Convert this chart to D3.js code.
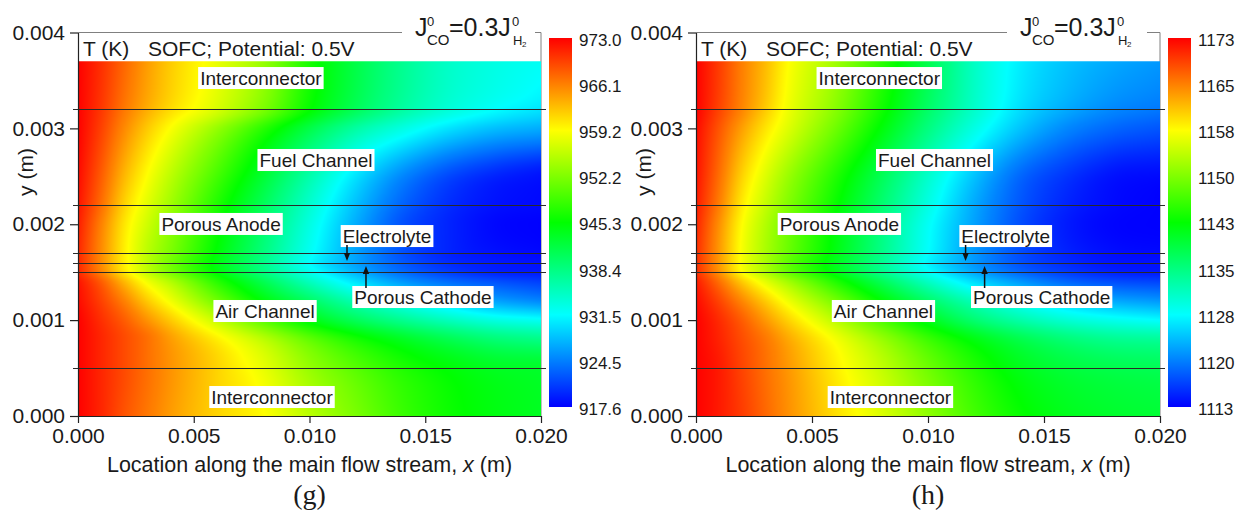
<!DOCTYPE html>
<html>
<head>
<meta charset="utf-8">
<script src="https://cdn.jsdelivr.net/npm/d3@7"></script>
<style>
  body { margin: 0; background: #fff; }
  text { font-family: "Liberation Sans", Arial, sans-serif; fill: #1a1a1a; }
</style>
</head>
<body>
<svg id="fig" width="1251" height="521"></svg>
<script>
// Sampling nodes of the temperature field (m)
const xNodes = [0, 0.001, 0.002, 0.003, 0.004, 0.006, 0.008, 0.010, 0.012, 0.014, 0.016, 0.018, 0.020];
const yNodes = [0, 0.0005, 0.0008, 0.001, 0.0012, 0.0014, 0.0015, 0.0016, 0.0017, 0.002, 0.0022, 0.0025, 0.003, 0.0032, 0.0037];

// Temperature (K) at the nodes, one row per yNodes entry (bottom to top), panel (g)
const tempG = [
  [973, 971, 968.5, 966.5, 964.5, 961.5, 959.3, 955.5, 952, 948.5, 946, 944.5, 943.5],
  [973, 971, 969, 967, 965, 961.5, 958, 953.5, 950, 947, 945, 943.5, 943],
  [973, 971, 969, 967, 964.5, 960, 955.5, 950.5, 946.5, 943.5, 941, 939, 938],
  [973, 970.5, 968, 965, 962, 956, 950, 944.5, 940.5, 937.5, 935, 933, 932],
  [972.5, 969.5, 966, 962, 958.5, 951.5, 945, 940, 935.5, 932, 929, 926.5, 925],
  [972, 968, 963, 958.5, 955, 947.5, 941, 935, 930, 926, 923.5, 922, 921],
  [971, 966, 960.5, 956, 952, 945, 938.5, 932.5, 927.5, 923.5, 921, 919.5, 919],
  [971, 965.5, 960, 955.5, 951.5, 944.5, 938, 931.5, 926.5, 922.5, 920, 919, 918.5],
  [971, 965.5, 960, 955.5, 952, 945, 938.5, 932, 926.5, 922, 919.5, 918.5, 918],
  [971.5, 966, 960.5, 956.5, 953, 946, 939.5, 933, 927, 922, 919.5, 918, 917.6],
  [972, 967, 961.5, 957.5, 954, 947, 940.5, 934, 928, 923, 920, 918.5, 918],
  [972.5, 968, 963, 959, 955.5, 949, 942.5, 936, 930, 925, 921.5, 919.5, 918.5],
  [973, 969.5, 965.5, 962, 959, 953.5, 947.5, 941.5, 936.5, 933, 930, 928, 927],
  [973, 970, 966.5, 963.5, 961, 957, 952, 945.5, 940.5, 936.5, 933.5, 931.5, 930],
  [973, 970.5, 967.5, 964.5, 962, 958, 953.5, 946.5, 941.5, 937.5, 934.5, 933, 932]
];

// Temperature (K) at the nodes, panel (h)
const tempH = [
  [1173, 1171.5, 1169.5, 1167, 1164.5, 1160, 1156, 1151.5, 1147, 1143.5, 1141.5, 1140.5, 1140],
  [1173, 1171.5, 1169, 1166.5, 1164, 1159, 1154.5, 1149.5, 1145, 1141.5, 1139.5, 1138.5, 1138],
  [1173, 1171, 1168.5, 1166, 1163, 1157.5, 1152, 1146.5, 1142, 1138.5, 1136, 1134.5, 1134],
  [1173, 1170.5, 1167.5, 1164, 1160.5, 1154, 1147.5, 1141.5, 1136.5, 1133, 1130.5, 1129, 1128],
  [1172.5, 1169, 1165, 1161, 1157, 1150, 1143, 1137, 1132, 1128, 1125, 1123, 1122],
  [1171.5, 1166.5, 1161, 1156.5, 1152.5, 1145, 1138, 1131.5, 1126, 1122, 1119, 1117.5, 1117],
  [1170.5, 1164.5, 1158, 1153.5, 1149, 1142, 1135, 1128.5, 1123, 1119, 1116.5, 1115, 1114.5],
  [1170.5, 1164, 1157.5, 1153, 1148.5, 1141.5, 1134.5, 1127.5, 1122, 1117.8, 1115.5, 1114.2, 1114],
  [1170.5, 1164, 1157.5, 1153, 1149, 1142, 1135, 1128, 1122, 1117.5, 1115, 1113.8, 1113.5],
  [1171, 1164.5, 1158, 1153.5, 1149.5, 1142.5, 1135.5, 1128.5, 1122.5, 1117.5, 1114.5, 1113.2, 1113],
  [1171.5, 1165.5, 1159, 1154.5, 1150.5, 1143.5, 1136.5, 1129.5, 1123, 1118, 1115, 1113.5, 1113],
  [1172, 1166.5, 1160.5, 1156, 1152, 1145, 1138, 1131, 1124.5, 1119, 1116, 1114, 1113.5],
  [1172.5, 1168, 1163.5, 1159.5, 1156, 1149.5, 1142.5, 1135.5, 1129.5, 1124.5, 1121, 1119, 1118],
  [1173, 1169, 1165, 1161, 1157, 1151, 1144, 1137, 1131, 1126, 1123, 1121, 1120],
  [1173, 1169.5, 1165.5, 1162, 1158, 1152.5, 1145.5, 1138.5, 1131.5, 1127, 1124.5, 1123, 1122]
];

// Colour-bar ranges and labels
const rangeG = [917.6, 973.0];
const rangeH = [1113, 1173];
const barLabelsG = ["973.0", "966.1", "959.2", "952.2", "945.3", "938.4", "931.5", "924.5", "917.6"];
const barLabelsH = ["1173", "1165", "1158", "1150", "1143", "1135", "1128", "1120", "1113"];

// Cell geometry: layer interfaces and top of the domain (m)
const layerBounds = [0.0005, 0.0015, 0.0016, 0.0017, 0.0022, 0.0032];
const domainTop = 0.0037;

// Axis ticks
const xTicks = [0, 0.005, 0.010, 0.015, 0.020];
const yTicks = [0, 0.001, 0.002, 0.003, 0.004];

// Layer names
const layerNames = ["Interconnector", "Fuel Channel", "Porous Anode", "Electrolyte", "Porous Cathode", "Air Channel", "Interconnector"];

// ---------------------------------------------------------------
const rainbow = ["#0000ff", "#00ffff", "#00ff00", "#ffff00", "#ff0000"];

// monotone cubic (Fritsch-Carlson) interpolant through (xs, ys)
function monotone(xs, ys) {
  const n = xs.length, d = [], m = new Array(n);
  for (let i = 0; i < n - 1; i++) d.push((ys[i + 1] - ys[i]) / (xs[i + 1] - xs[i]));
  m[0] = d[0]; m[n - 1] = d[n - 2];
  for (let i = 1; i < n - 1; i++) m[i] = d[i - 1] * d[i] <= 0 ? 0 : (d[i - 1] + d[i]) / 2;
  for (let i = 0; i < n - 1; i++) {
    if (d[i] === 0) { m[i] = 0; m[i + 1] = 0; continue; }
    const a = m[i] / d[i], b = m[i + 1] / d[i], s = a * a + b * b;
    if (s > 9) { const t = 3 / Math.sqrt(s); m[i] = t * a * d[i]; m[i + 1] = t * b * d[i]; }
  }
  return x => {
    const i = Math.min(n - 2, Math.max(0, d3.bisectRight(xs, x) - 1));
    const h = xs[i + 1] - xs[i], t = (x - xs[i]) / h, t2 = t * t, t3 = t2 * t;
    return (2 * t3 - 3 * t2 + 1) * ys[i] + (t3 - 2 * t2 + t) * h * m[i] +
           (-2 * t3 + 3 * t2) * ys[i + 1] + (t3 - t2) * h * m[i + 1];
  };
}

const svg = d3.select("#fig");
svg.append("rect").attr("width", 1251).attr("height", 521).attr("fill", "#fff");
const defs = svg.append("defs");

// layout of the two panels
const panels = [
  { id: "g", temp: tempG, range: rangeG, bar: barLabelsG, left: 78, right: 541, top: 32.5, bottom: 416,
    barX: 549, jX: 415, gap: [402, 535], caption: "(g)" },
  { id: "h", temp: tempH, range: rangeH, bar: barLabelsH, left: 696, right: 1160, top: 32.5, bottom: 416,
    barX: 1168, jX: 1020, gap: [1007, 1147], caption: "(h)" }
];

// label anchor points in data coordinates (m)
const labelPos = [
  [0.0079, 0.003525], [0.01028, 0.00267], [0.00618, 0.002003], [0.01335, 0.001877],
  [0.0149, 0.001241], [0.00808, 0.001095], [0.00838, 0.000198]
];

panels.forEach(p => {
  const g = svg.append("g");
  const x = d3.scaleLinear().domain([0, 0.02]).range([p.left, p.right]);
  const y = d3.scaleLinear().domain([0, 0.004]).range([p.bottom, p.top]);
  const [lo, hi] = p.range, r = hi - lo;
  const color = d3.scaleLinear().domain([lo, lo + r * 0.25, lo + r * 0.5, lo + r * 0.75, hi])
    .range(rainbow).clamp(true);

  // frame (top and right sides)
  g.append("path")
    .attr("d", `M${p.left},${p.top}H${p.right}V${p.bottom}`)
    .attr("fill", "none").attr("stroke", "#808080").attr("stroke-width", 1);

  // temperature field rendered into a raster
  const x0 = x(0), yTop = y(domainTop), yBot = y(0);
  const W = Math.round(x(0.02) - x0), H = Math.round(yBot - yTop);
  const canvas = document.createElement("canvas");
  canvas.width = W; canvas.height = H;
  const ctx = canvas.getContext("2d");
  const img = ctx.createImageData(W, H);
  const lut = d3.range(1025).map(k => d3.rgb(color(lo + r * k / 1024)));
  const rowFns = p.temp.map(row => monotone(xNodes, row));
  for (let i = 0; i < W; i++) {
    const xv = x.invert(x0 + i + 0.5);
    const colFn = monotone(yNodes, rowFns.map(f => f(xv)));
    for (let j = 0; j < H; j++) {
      const yv = y.invert(yTop + j * (yBot - yTop) / H + 0.5);
      const T = colFn(yv);
      const k = Math.max(0, Math.min(1024, Math.round((T - lo) / r * 1024)));
      const c = lut[k], o = (j * W + i) * 4;
      img.data[o] = c.r; img.data[o + 1] = c.g; img.data[o + 2] = c.b; img.data[o + 3] = 255;
    }
  }
  ctx.putImageData(img, 0, 0);
  g.append("image")
    .attr("href", canvas.toDataURL())
    .attr("x", x0).attr("y", yTop).attr("width", x(0.02) - x0).attr("height", yBot - yTop)
    .attr("preserveAspectRatio", "none");

  // layer interfaces
  g.selectAll("line.layer").data(layerBounds).join("line")
    .attr("class", "layer")
    .attr("x1", x(0) - 5).attr("x2", x(0.02) + 5)
    .attr("y1", d => Math.round(y(d)) + 0.5).attr("y2", d => Math.round(y(d)) + 0.5)
    .attr("stroke", "#2a2a2a").attr("stroke-width", 1);

  // axes
  const xAxis = g.append("g").attr("transform", `translate(0,${p.bottom})`)
    .call(d3.axisBottom(x).tickValues(xTicks).tickFormat(d3.format(".3f"))
      .tickSize(7).tickPadding(5).tickSizeOuter(0));
  const yAxis = g.append("g").attr("transform", `translate(${p.left},0)`)
    .call(d3.axisLeft(y).tickValues(yTicks).tickFormat(d3.format(".3f"))
      .tickSize(8).tickPadding(5).tickSizeOuter(0));
  [xAxis, yAxis].forEach(a => {
    a.selectAll("path, line").attr("stroke", "#222").attr("stroke-width", 1.2);
    a.selectAll("text").attr("font-size", 21).attr("fill", "#1a1a1a")
      .style("font-family", '"Liberation Sans", Arial, sans-serif');
  });

  // axis titles
  const xt = g.append("text").attr("x", (p.left + p.right) / 2).attr("y", 472)
    .attr("text-anchor", "middle").attr("font-size", 21.5);
  xt.append("tspan").text("Location along the main flow stream, ");
  xt.append("tspan").attr("font-style", "italic").text("x");
  xt.append("tspan").text(" (m)");
  g.append("text").attr("transform", `translate(${p.left - 52},172) rotate(-90)`)
    .attr("text-anchor", "middle").attr("dy", "0.35em").attr("font-size", 21).text("y (m)");

  // header inside the frame
  g.append("text").attr("x", p.left + 5).attr("y", 56).attr("font-size", 21).text("T (K)");
  g.append("text").attr("x", p.left + 70).attr("y", 56).attr("font-size", 21).text("SOFC; Potential: 0.5V");

  // J_CO^0 = 0.3 J_H2^0 label over the top border
  g.append("rect").attr("x", p.gap[0]).attr("y", 12).attr("width", p.gap[1] - p.gap[0]).attr("height", 40)
    .attr("fill", "#fff");
  const jx = p.jX;
  g.append("text").attr("x", jx).attr("y", 36).attr("font-size", 25).text("J");
  g.append("text").attr("x", jx + 12).attr("y", 26).attr("font-size", 13).text("0");
  g.append("text").attr("x", jx + 12).attr("y", 45).attr("font-size", 15).text("CO");
  g.append("text").attr("x", jx + 34).attr("y", 36).attr("font-size", 25).text("=0.3J");
  g.append("text").attr("x", jx + 97).attr("y", 26).attr("font-size", 13).text("0");
  g.append("text").attr("x", jx + 98).attr("y", 45).attr("font-size", 13).text("H");
  g.append("text").attr("x", jx + 107).attr("y", 47).attr("font-size", 8).text("2");

  // layer names on white boxes
  layerNames.forEach((name, i) => {
    const [lx, ly] = labelPos[i];
    const t = g.append("text").attr("x", x(lx)).attr("y", y(ly)).attr("dy", "0.35em")
      .attr("text-anchor", "middle").attr("font-size", 19).text(name);
    const w = t.node().getComputedTextLength();
    g.insert("rect", () => t.node())
      .attr("x", x(lx) - w / 2 - 2).attr("y", y(ly) - 11).attr("width", w + 4).attr("height", 22)
      .attr("fill", "#fff");
  });

  // arrows to the thin layers
  const arrows = [
    { ax: 0.01162, from: 0.001784, to: 0.001617 },
    { ax: 0.01244, from: 0.001335, to: 0.001565 }
  ];
  arrows.forEach(a => {
    const X = x(a.ax), y1 = y(a.from), y2 = y(a.to), dir = Math.sign(y2 - y1);
    g.append("line").attr("x1", X).attr("x2", X).attr("y1", y1).attr("y2", y2 - dir * 6)
      .attr("stroke", "#111").attr("stroke-width", 1.5);
    g.append("path")
      .attr("d", `M${X},${y2}L${X - 3.2},${y2 - dir * 8}L${X + 3.2},${y2 - dir * 8}Z`)
      .attr("fill", "#111");
  });

  // colour bar
  const gid = "bar-" + p.id;
  const grad = defs.append("linearGradient").attr("id", gid)
    .attr("x1", 0).attr("y1", 1).attr("x2", 0).attr("y2", 0);
  rainbow.forEach((c, i) => grad.append("stop").attr("offset", i / (rainbow.length - 1)).attr("stop-color", c));
  g.append("rect").attr("x", p.barX).attr("y", 38).attr("width", 23).attr("height", 369)
    .attr("fill", `url(#${gid})`);
  const by = d3.scaleLinear().domain([0, p.bar.length - 1]).range([40, 409]);
  g.selectAll("text.bar").data(p.bar).join("text")
    .attr("class", "bar")
    .attr("x", p.barX + 30).attr("y", (d, i) => by(i)).attr("dy", "0.35em")
    .attr("font-size", 17).text(d => d);

  // sub-figure caption
  g.append("text").attr("x", (p.left + p.right) / 2).attr("y", 504).attr("text-anchor", "middle")
    .attr("font-size", 28).style("font-family", '"Liberation Serif", "Times New Roman", serif')
    .text(p.caption);
});

// figure caption, running off the bottom edge
svg.append("text").attr("x", 577).attr("y", 541.5).attr("font-size", 32)
  .style("font-family", '"Liberation Serif", "Times New Roman", serif').text("Figure 7.");
</script>
</body>
</html>
